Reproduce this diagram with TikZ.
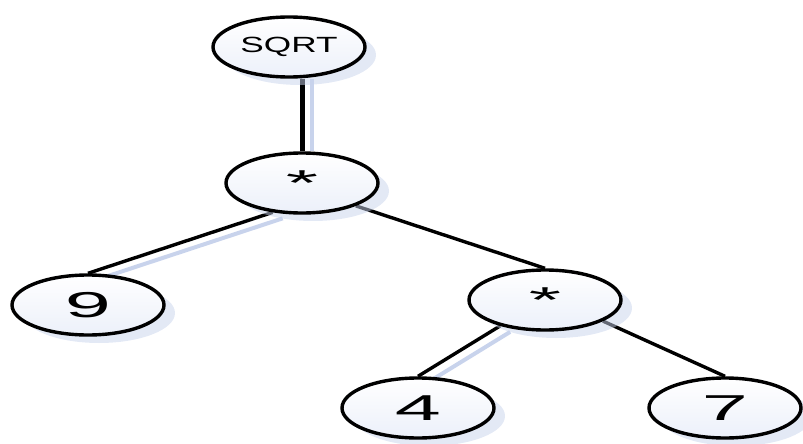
\documentclass[tikz,border=0pt]{standalone}
\usepackage{fontspec}
\setmainfont{Liberation Sans}
\usetikzlibrary{shapes.geometric,shadows,backgrounds}
\definecolor{shadowblue}{RGB}{200,211,236}
\definecolor{knotfill}{RGB}{236,240,250}
\newcommand{\wtext}[2][2.3]{\scalebox{#1}[1]{#2}}
\tikzset{
  knot/.style={ellipse, draw, line width=3.4pt, top color=white, bottom color=knotfill, minimum width=152pt, minimum height=60pt, inner sep=0pt,
    font=\fontsize{36}{36}\selectfont,
    drop shadow={fill=shadowblue, shadow xshift=11pt, shadow yshift=-8pt}},
  branch/.style={line width=3.4pt},
  branchshadow/.style={line width=4pt, shadowblue}
}
\begin{document}
\begin{tikzpicture}[x=1pt,y=-1pt]
			\useasboundingbox (0,0) rectangle (803,444);
			% Nodes
			\node [knot, font=\fontsize{22}{22}\selectfont] (sq) at (289,47) {\wtext[1.6]{SQRT}};
			\node [knot] (m1) at (302,183) {\wtext{*}};
			\node [knot] (n9) at (88,305) {\wtext{9}};
			\node [knot] (m2) at (545,300) {\wtext{*}};
			\node [knot] (n4) at (418,408) {\wtext{4}};
			\node [knot] (n7) at (725,408) {\wtext{7}};
			% Branches
			\begin{pgfonlayer}{background}
			\draw [branchshadow] ([shift={(10,0)}]m1.north) -- ([shift={(10,0)}]m1.north |- sq.south);
			\draw [branchshadow] ([shift={(10,6)}]m1.225) -- ([shift={(10,6)}]n9.north);
			\draw [branchshadow] ([shift={(10,6)}]m2.210) -- ([shift={(10,6)}]n4.north);
			\draw [branch, line width=5pt] (m1.north) -- (m1.north |- sq.south);
			\draw [branch] (m1.225) -- (n9.north);
			\draw [branch] (m1.337) -- (m2.north);
			\draw [branch] (m2.210) -- (n4.north);
			\draw [branch] (m2.340) -- (n7.north);
			\end{pgfonlayer}
\end{tikzpicture}
\end{document}
